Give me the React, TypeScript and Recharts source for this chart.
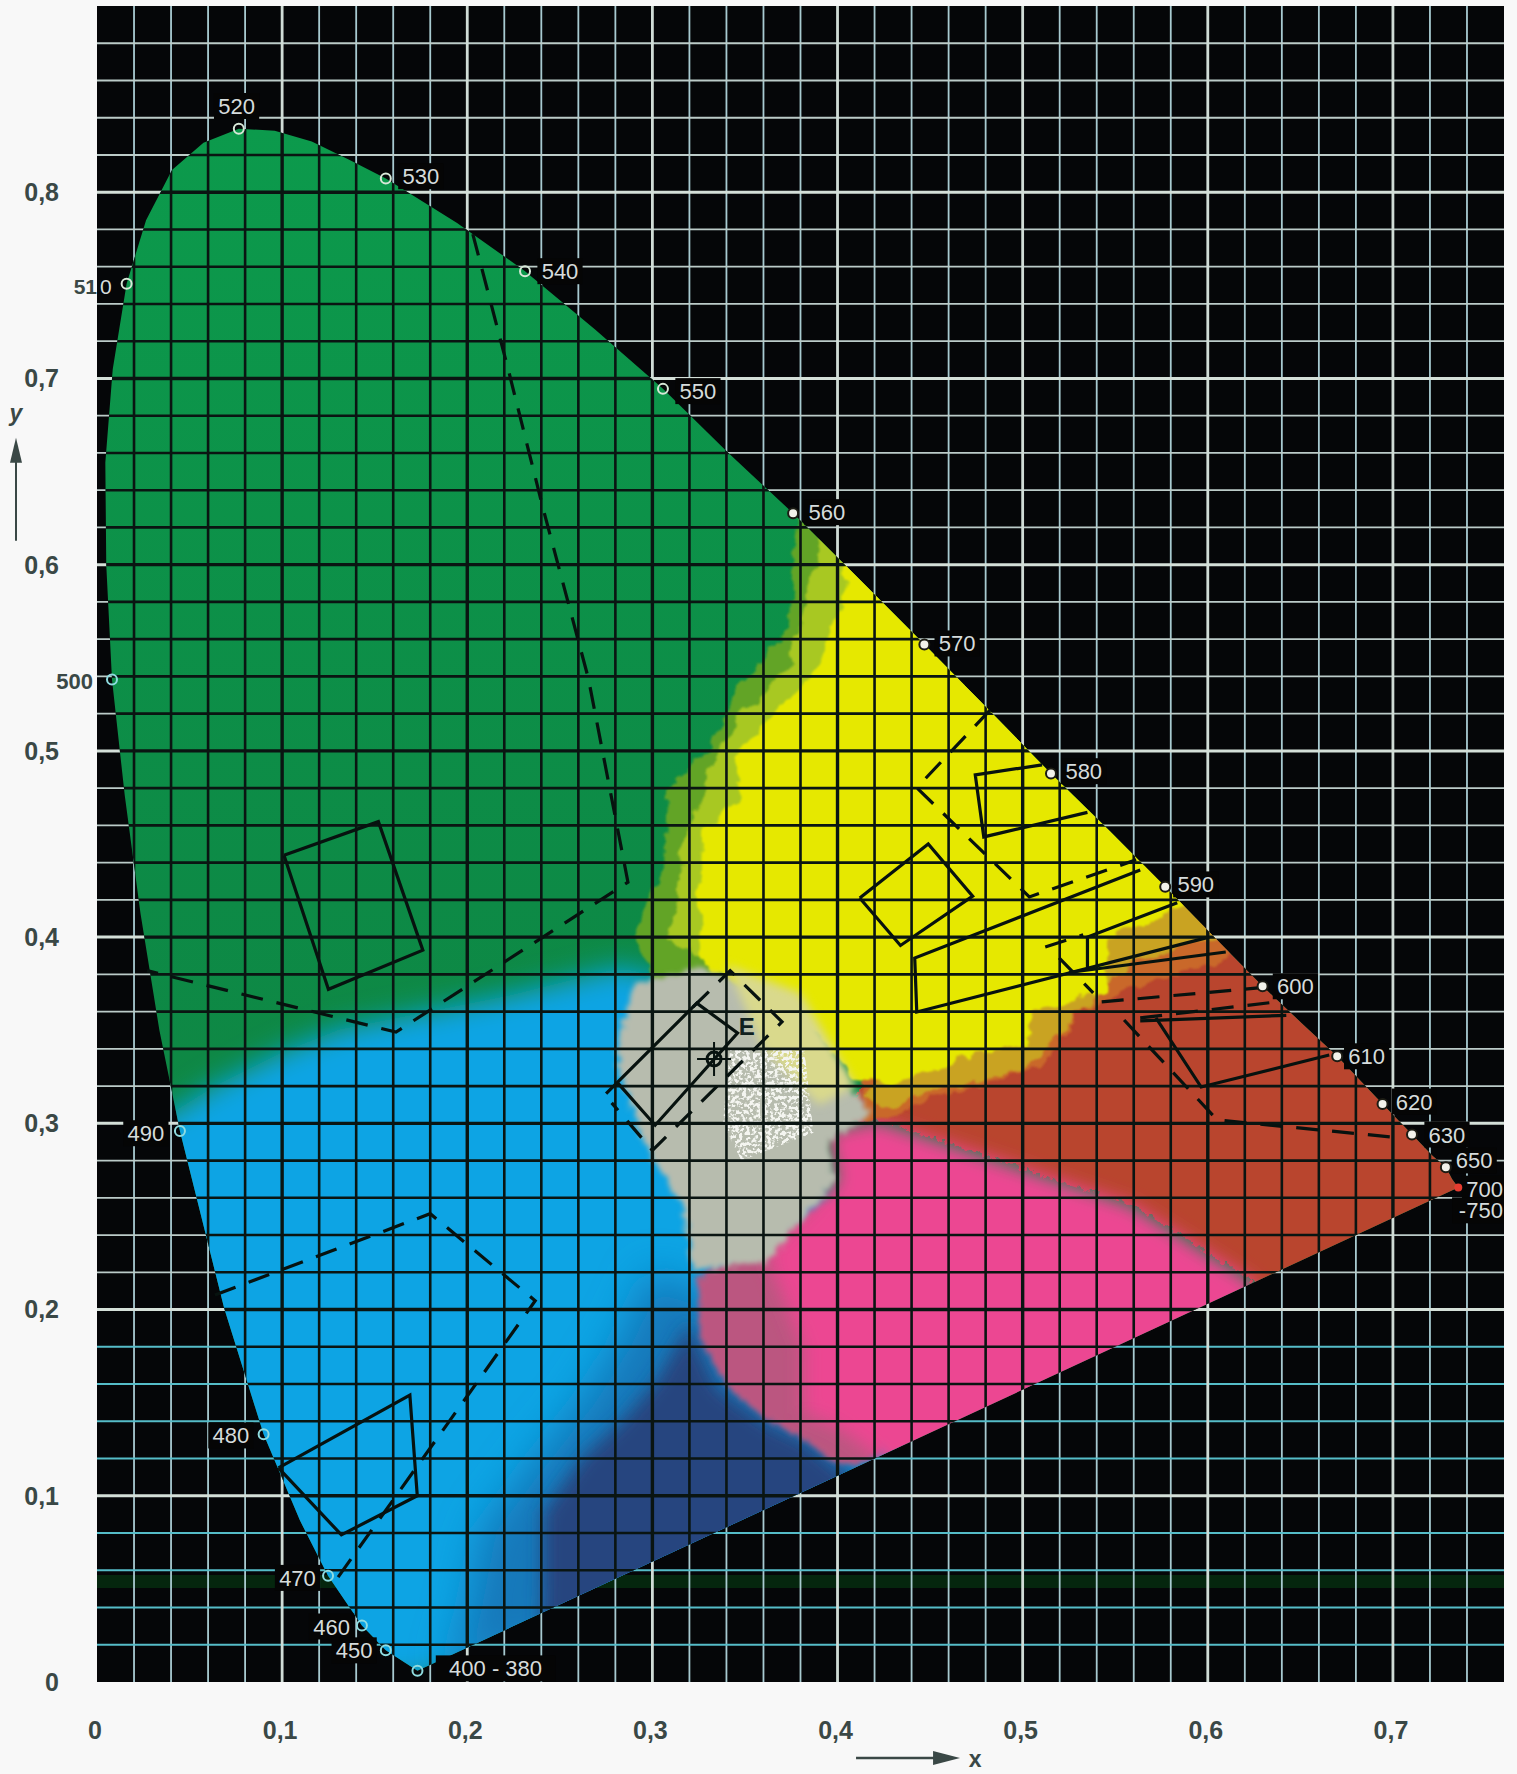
import React from 'react';
import { ScatterChart, Scatter, XAxis, YAxis } from 'recharts';

type P = { x: number; y: number };
const toPts = (a: number[][]): P[] => a.map(([x, y]) => ({ x, y }));

const xTicks = [0, 0.1, 0.2, 0.3, 0.4, 0.5, 0.6, 0.7];
const yTicks = [0, 0.1, 0.2, 0.3, 0.4, 0.5, 0.6, 0.7, 0.8];
const xMajor = [0.1, 0.2, 0.3, 0.4, 0.5, 0.6, 0.7];
const yMajor = [0.1, 0.2, 0.3, 0.4, 0.5, 0.6, 0.7, 0.8];
const xMinor = [0.02, 0.04, 0.06, 0.08, 0.12, 0.14, 0.16, 0.18, 0.22, 0.24, 0.26, 0.28, 0.32, 0.34, 0.36, 0.38, 0.42, 0.44, 0.46, 0.48, 0.52, 0.54, 0.56, 0.58, 0.62, 0.64, 0.66, 0.68, 0.72, 0.74];
const yMinor = [0.22, 0.24, 0.26, 0.28, 0.32, 0.34, 0.36, 0.38, 0.42, 0.44, 0.46, 0.48, 0.52, 0.54, 0.56, 0.58, 0.62, 0.64, 0.66, 0.68, 0.72, 0.74, 0.76, 0.78, 0.82, 0.84, 0.86, 0.88];
const yMinorLow = [0.02, 0.04, 0.06, 0.08, 0.12, 0.14, 0.16, 0.18];

const X_MAX = 0.76;
const Y_MAX = 0.9;

const locus = toPts([
  [0.1731, 0.0061], [0.156, 0.017], [0.1431, 0.0304], [0.1248, 0.0571], [0.1096, 0.0868], [0.09, 0.133],
  [0.0687, 0.2007], [0.0448, 0.2959], [0.0337, 0.35], [0.0235, 0.4127], [0.015, 0.476], [0.0081, 0.5383],
  [0.005, 0.6], [0.0045, 0.6548], [0.0085, 0.705], [0.016, 0.7509], [0.0265, 0.785], [0.0405, 0.812],
  [0.0575, 0.8265], [0.0766, 0.8341], [0.096, 0.833], [0.116, 0.8272], [0.1362, 0.8175], [0.156, 0.8074],
  [0.1945, 0.7835], [0.2312, 0.7576], [0.2692, 0.7262], [0.3057, 0.6944], [0.3405, 0.6605], [0.376, 0.6276],
  [0.4115, 0.5925], [0.4469, 0.5571], [0.4815, 0.5222], [0.5153, 0.4878], [0.5472, 0.4568], [0.577, 0.4271],
  [0.605, 0.3985], [0.6296, 0.3736], [0.651, 0.3535], [0.6699, 0.336], [0.6944, 0.3104], [0.7103, 0.294],
  [0.7215, 0.2825], [0.7286, 0.2764], [0.732, 0.27], [0.7353, 0.2655],
]);

const blueRegion = toPts([[0.0, 0.29], [0.0393, 0.305], [0.0637, 0.3202], [0.1004, 0.3384], [0.131, 0.3505], [0.2227, 0.3688], [0.2837, 0.384], [0.33, 0.37], [0.4, 0.25], [0.45, 0.06], [0.17, 0.0], [0.0, 0.0]]);
const midBlueRegion = toPts([[0.3004, 0.2213], [0.2809, 0.1799], [0.2626, 0.1514], [0.2355, 0.1176], [0.2085, 0.0816], [0.1999, 0.0371], [0.19, 0.005], [0.45, 0.08], [0.34, 0.2]]);
const navyRegion = toPts([[0.3204, 0.1928], [0.3025, 0.1622], [0.2842, 0.1407], [0.2626, 0.1208], [0.241, 0.0908], [0.241, 0.0548], [0.24, 0.02], [0.45, 0.08], [0.3998, 0.1155], [0.3814, 0.13], [0.362, 0.1391], [0.335, 0.1584], [0.3241, 0.1821]]);
const redRegion = toPts([[0.4, 0.3], [0.4212, 0.3019], [0.4487, 0.2928], [0.5587, 0.2564], [0.6264, 0.2139], [0.74, 0.25], [0.76, 0.3], [0.62, 0.42], [0.5, 0.36], [0.42, 0.33]]);
const mauveRegion = toPts([[0.3241, 0.2175], [0.3258, 0.1837], [0.3404, 0.1584], [0.362, 0.1407], [0.3814, 0.13], [0.4014, 0.1155], [0.42, 0.12], [0.46, 0.2], [0.4, 0.26]]);
const pinkRegion = toPts([[0.4212, 0.3019], [0.4487, 0.2928], [0.5587, 0.2564], [0.6264, 0.2139], [0.62, 0.17], [0.44, 0.1], [0.4214, 0.1208], [0.3998, 0.137], [0.3814, 0.1445], [0.3814, 0.1799], [0.3636, 0.225], [0.362, 0.2304], [0.3782, 0.2465], [0.3998, 0.2696], [0.3938, 0.2959]]);
const orangeRegion = toPts([[0.41, 0.3], [0.423, 0.3034], [0.4446, 0.3126], [0.5062, 0.3303], [0.5284, 0.3609], [0.5548, 0.3716], [0.6094, 0.3894], [0.62, 0.42], [0.5, 0.42], [0.41, 0.33]]);
const goldRegion = toPts([[0.41, 0.315], [0.423, 0.3088], [0.4446, 0.3163], [0.4976, 0.3287], [0.5219, 0.3539], [0.5527, 0.3861], [0.6029, 0.4], [0.58, 0.45], [0.5, 0.4]]);
const oliveRegion = toPts([[0.3744, 0.6171], [0.369, 0.5634], [0.3436, 0.5344], [0.3312, 0.5097], [0.322, 0.4952], [0.3042, 0.4791], [0.3025, 0.4377], [0.2917, 0.4162], [0.2863, 0.3985], [0.3, 0.375], [0.4, 0.36], [0.5, 0.5], [0.45, 0.58], [0.38, 0.65]]);
const limeRegion = toPts([[0.3836, 0.5988], [0.3701, 0.5451], [0.3436, 0.5183], [0.3274, 0.4914], [0.3231, 0.4774], [0.3133, 0.456], [0.3096, 0.4237], [0.3042, 0.3985], [0.4, 0.36], [0.5, 0.5], [0.45, 0.58], [0.39, 0.64]]);
const yellowRegion = toPts([[0.4014, 0.5988], [0.3998, 0.5811], [0.3836, 0.5419], [0.362, 0.5204], [0.342, 0.4968], [0.342, 0.4737], [0.3231, 0.456], [0.3214, 0.4023], [0.3241, 0.384], [0.3754, 0.3566], [0.4029, 0.3262], [0.423, 0.3195], [0.4538, 0.3324], [0.4976, 0.341], [0.5019, 0.3571], [0.5419, 0.3716], [0.5419, 0.3985], [0.5835, 0.4162], [0.6, 0.45], [0.5, 0.6], [0.42, 0.65]]);
const greyRegion = toPts([[0.2898, 0.3748], [0.3265, 0.384], [0.3754, 0.3627], [0.4181, 0.305], [0.3938, 0.2898], [0.3998, 0.2696], [0.3782, 0.2465], [0.362, 0.225], [0.322, 0.2213], [0.3166, 0.2551], [0.295, 0.291], [0.284, 0.323], [0.2807, 0.3384]]);
const paleRegion = toPts([[0.34, 0.385], [0.38, 0.37], [0.41, 0.32], [0.39, 0.31], [0.36, 0.34]]);
const whiteRegion = toPts([[0.342, 0.34], [0.382, 0.34], [0.387, 0.295], [0.348, 0.28], [0.338, 0.3]]);
const greenBand = toPts([[0, 0.0505], [X_MAX, 0.0505], [X_MAX, 0.0575], [0, 0.0575]]);
const plotArea = toPts([[0, 0], [X_MAX, 0], [X_MAX, Y_MAX], [0, Y_MAX]]);

const solidShapes: P[][] = [
  [[0.101, 0.444], [0.152, 0.462], [0.176, 0.393], [0.125, 0.372], [0.101, 0.444]],
  [[0.098, 0.115], [0.169, 0.154], [0.173, 0.1], [0.132, 0.079], [0.098, 0.115]],
  [[0.275, 0.316], [0.324, 0.3645], [0.346, 0.3485], [0.3015, 0.299], [0.281, 0.322]],
  [[0.412, 0.421], [0.449, 0.45], [0.473, 0.422], [0.434, 0.3955], [0.412, 0.421]],
  [[0.5105, 0.4925], [0.4744, 0.4871], [0.479, 0.4538], [0.535, 0.467]],
  [[0.5635, 0.436], [0.4417, 0.3888], [0.4428, 0.3598], [0.6007, 0.4]],
  [[0.5835, 0.4184], [0.535, 0.4], [0.535, 0.384]],
  [[0.525, 0.381], [0.6097, 0.392]],
  [[0.5635, 0.355], [0.6424, 0.358]],
  [[0.572, 0.3566], [0.5964, 0.3195], [0.6656, 0.3367]],
].map(toPts);

const dashedShapes: P[][] = [
  [[0.203, 0.7775], [0.2226, 0.703], [0.241, 0.63], [0.2654, 0.539], [0.2868, 0.4295], [0.1615, 0.349], [0.027, 0.382]],
  [[0.0637, 0.2078], [0.18, 0.2515], [0.2367, 0.2047], [0.13, 0.056]],
  [[0.322, 0.3625], [0.342, 0.382], [0.37, 0.3545], [0.3, 0.2855], [0.278, 0.311]],
  [[0.4825, 0.522], [0.4428, 0.4802], [0.5036, 0.4216], [0.5613, 0.4415]],
  [[0.5122, 0.3947], [0.5327, 0.4012]],
  [[0.5197, 0.3889], [0.5381, 0.37]],
  [[0.5427, 0.3652], [0.6273, 0.3727]],
  [[0.5635, 0.3566], [0.637, 0.3652]],
  [[0.5548, 0.3555], [0.6051, 0.3018], [0.704, 0.2922]],
].map(toPts);

const blueSidePoints = toPts([[0.1731, 0.0061], [0.156, 0.017], [0.1431, 0.0304], [0.1248, 0.0571], [0.09, 0.133], [0.0448, 0.2959], [0.0081, 0.5383]]);
const greenSidePoints = toPts([[0.016, 0.7509], [0.0766, 0.8341], [0.156, 0.8074], [0.2312, 0.7576], [0.3057, 0.6944]]);
const warmSidePoints = toPts([[0.376, 0.6276], [0.4469, 0.5571], [0.5153, 0.4878], [0.577, 0.4271], [0.6296, 0.3736], [0.6699, 0.336], [0.6944, 0.3104], [0.7103, 0.294], [0.7286, 0.2764]]);
const redEndPoint = toPts([[0.7353, 0.2655]]);
const whitePoint = toPts([[0.3333, 0.3346]]);
const eLabelPoint = toPts([[0.351, 0.352]]);

const waveLabels = [
  { t: '520', x: 0.0754, y: 0.8463 }, { t: '530', x: 0.1749, y: 0.8086 }, { t: '540', x: 0.2501, y: 0.7576 },
  { t: '550', x: 0.3246, y: 0.6932 }, { t: '560', x: 0.3943, y: 0.6282 }, { t: '570', x: 0.4646, y: 0.5577 },
  { t: '580', x: 0.533, y: 0.4891 }, { t: '590', x: 0.5935, y: 0.4283 }, { t: '600', x: 0.6473, y: 0.3736 },
  { t: '610', x: 0.6858, y: 0.336 }, { t: '620', x: 0.7115, y: 0.3117 }, { t: '630', x: 0.7292, y: 0.294 },
  { t: '650', x: 0.7439, y: 0.2801 }, { t: '700', x: 0.7495, y: 0.2649 }, { t: '-750', x: 0.7475, y: 0.2533 },
  { t: '490', x: 0.0264, y: 0.2947 }, { t: '480', x: 0.0723, y: 0.1324 }, { t: '470', x: 0.1083, y: 0.0559 },
  { t: '460', x: 0.1267, y: 0.0298 }, { t: '450', x: 0.1389, y: 0.017 }, { t: '400 - 380', x: 0.2153, y: 0.0073 },
];
const label510 = toPts([[0, 0.7492]]);
const label500 = toPts([[0, 0.5377]]);
const yArrowAnchor = toPts([[0, 0.6128]]);
const xArrowAnchor = toPts([[0.41, 0]]);

const FONT = '"Liberation Sans", Arial, sans-serif';
const INK = '#3a4846';
const LINE = '#07120f';
const none = () => <g />;
const pathOf = (pts: P[]) => pts.map((p, i) => `${i ? 'L' : 'M'}${p.x},${p.y}`).join('');
const pairsOf = (pts: P[]) => pts.map((p, i) => `${i % 2 ? 'L' : 'M'}${p.x},${p.y}`).join('');

const vLines = (v: number[]) => v.flatMap((x) => [{ x, y: 0 }, { x, y: Y_MAX }]);
const hLines = (v: number[]) => v.flatMap((y) => [{ x: 0, y }, { x: X_MAX, y }]);

const gridSeries = (key: string, data: P[], stroke: string, w: number, clipped = false) => (
  <Scatter key={key} data={data} isAnimationActive={false} shape={none} line={(p: any) => (
    <path d={pairsOf(p.points)} fill="none" stroke={stroke} strokeWidth={w} clipPath={clipped ? 'url(#gamut)' : undefined} />
  )} />
);
const region = (key: string, data: P[], fill: string, filter: string | undefined, opacity = 1) => (
  <Scatter key={key} data={data} isAnimationActive={false} shape={none} line={(p: any) => (
    <g clipPath="url(#gamut)">
      <path d={pathOf(p.points) + 'Z'} fill={fill} stroke="none" opacity={opacity} filter={filter ? `url(#${filter})` : undefined} />
    </g>
  )} />
);
const stroked = (key: string, data: P[], dash?: string) => (
  <Scatter key={key} data={data} isAnimationActive={false} shape={none} line={(p: any) => (
    <path d={pathOf(p.points)} fill="none" stroke={LINE} strokeWidth={3.2} strokeDasharray={dash} />
  )} />
);
const flat = (key: string, data: P[], fill: string) => (
  <Scatter key={key} data={data} isAnimationActive={false} shape={none} line={(p: any) => (
    <path d={pathOf(p.points) + 'Z'} fill={fill} stroke="none" />
  )} />
);

const blurDef = (id: string, s: number) => (
  <filter id={id} x="-40%" y="-40%" width="180%" height="180%"><feGaussianBlur stdDeviation={s} /></filter>
);
const roughDef = (id: string, freq: number, scale: number, blur: number, dx = 0) => (
  <filter id={id} x="-20%" y="-20%" width="140%" height="140%">
    <feTurbulence type="fractalNoise" baseFrequency={freq} numOctaves={3} seed={3} result="n" />
    <feDisplacementMap in="SourceGraphic" in2="n" scale={scale} xChannelSelector="R" yChannelSelector="G" />
    <feOffset dx={dx} dy={0} />
    <feGaussianBlur stdDeviation={blur} />
  </filter>
);

const WaveLabel = (p: any) => {
  const t = p.payload.t as string;
  const w = t.length * 12.4 + 8;
  const left = p.cx - w / 2;
  const right = Math.min(p.cx + w / 2, 1504);
  return (
    <g>
      <rect x={left} y={p.cy - 13} width={right - left} height={26} fill="#050505" />
      <text x={p.cx} y={p.cy + 8} textAnchor="middle" fontFamily={FONT} fontSize={22} fill="#d6dcdc">{t}</text>
    </g>
  );
};

const ring = (stroke: string, fill: string) => (p: any) => (
  <circle cx={p.cx} cy={p.cy} r={5} fill={fill} stroke={stroke} strokeWidth={2} />
);

const fmt = (v: number) => (v === 0 ? '0' : String(v).replace('.', ','));
const tickStyle = { fontFamily: FONT, fontWeight: 700, fontSize: 25, fill: INK };

export default function App() {
  return (
    <div style={{ position: 'absolute', left: 0, top: 0, width: 1517, height: 1774, background: '#f8f8f8' }}>
      <ScatterChart width={1517} height={1774} margin={{ top: 6, right: 13, bottom: 0, left: 0 }}>
        <XAxis type="number" dataKey="x" domain={[0, X_MAX]} ticks={xTicks} interval={0} height={92} tickFormatter={fmt}
          tick={{ ...tickStyle, dx: -2 }} tickLine={false} axisLine={false} tickMargin={33} />
        <YAxis type="number" dataKey="y" domain={[0, Y_MAX]} ticks={yTicks} interval={0} width={97} tickFormatter={fmt}
          tick={tickStyle} tickLine={false} axisLine={false} tickMargin={32} />

        {flat('plotblack', plotArea, '#050608')}
        {flat('band', greenBand, '#05260e')}

        {gridSeries('wMinorX', vLines(xMinor), '#a8cad0', 1.8)}
        {gridSeries('wMinorY', hLines(yMinor), '#bccbc8', 1.8)}
        {gridSeries('wLowY', hLines(yMinorLow), '#55bcc8', 2)}
        {gridSeries('wMajorX', vLines(xMajor), '#d0dcd6', 2.8)}
        {gridSeries('wMajorY', hLines(yMajor), '#d4dfd8', 3)}

        <Scatter key="gamut" data={locus} isAnimationActive={false} shape={none} line={(p: any) => (
          <g>
            <defs>
              <clipPath id="gamut"><path d={pathOf(p.points) + 'Z'} /></clipPath>
              <linearGradient id="greenFill" x1="0" y1="0" x2="0" y2="1">
                <stop offset="0" stopColor="#0c9a4c" />
                <stop offset="0.5" stopColor="#0d8a46" />
                <stop offset="1" stopColor="#12803f" />
              </linearGradient>
              {blurDef('b2', 2)}
              {blurDef('b5', 5)}
              {blurDef('b9', 9)}
              {blurDef('b14', 14)}
              {blurDef('b20', 20)}
              {roughDef('rough', 0.05, 18, 0.8, 7)}
              {roughDef('fine', 0.16, 12, 0.6)}
              {roughDef('fineSoft', 0.16, 14, 2.4)}
              <filter id="speckle" x="-10%" y="-10%" width="120%" height="120%">
                <feTurbulence type="fractalNoise" baseFrequency={0.28} numOctaves={2} seed={5} result="n" />
                <feColorMatrix in="n" type="matrix" values="0 0 0 0 0 0 0 0 0 0 0 0 0 0 0 9 0 0 0 -4.2" result="m" />
                <feComposite in="SourceGraphic" in2="m" operator="in" />
                <feGaussianBlur stdDeviation={0.5} />
              </filter>
            </defs>
            <path d={pathOf(p.points) + 'Z'} fill="url(#greenFill)" stroke="none" />
          </g>
        )} />

        {region('blue', blueRegion, '#08a4e4', 'b14')}
        {region('midblue', midBlueRegion, '#1478ba', 'b20')}
        {region('navy', navyRegion, '#28457f', 'b9')}
        {region('red', redRegion, '#b9442f', 'fine')}
        {region('mauve', mauveRegion, '#bb5680', 'fineSoft')}
        {region('pink', pinkRegion, '#ec4792', 'b9')}
        {region('olive', oliveRegion, '#62a428', 'rough')}
        {region('lime', limeRegion, '#a8c820', 'rough')}
        {region('orange', orangeRegion, '#c9682a', 'rough')}
        {region('gold', goldRegion, '#c9a322', 'rough')}
        {region('yellow', yellowRegion, '#e6e806', 'rough')}
        {region('grey', greyRegion, '#b7bcae', 'fineSoft')}
        {region('pale', paleRegion, '#d9d98c', 'b5')}
        {region('white', whiteRegion, '#f4f5f0', 'speckle')}

        {gridSeries('kMinorX', vLines(xMinor), '#0a1512', 2.6, true)}
        {gridSeries('kMinorY', hLines([...yMinorLow, ...yMinor]), '#0a1512', 2.6, true)}
        {gridSeries('kMajorX', vLines(xMajor), '#0a1512', 3.4, true)}
        {gridSeries('kMajorY', hLines(yMajor), '#0a1512', 3.4, true)}

        {solidShapes.map((s, i) => stroked(`solid${i}`, s))}
        {dashedShapes.map((s, i) => stroked(`dash${i}`, s, '22 14'))}

        <Scatter key="labels" data={waveLabels} isAnimationActive={false} shape={WaveLabel} />
        <Scatter key="wlBlue" data={blueSidePoints} isAnimationActive={false} shape={ring('#8fdce0', 'none')} />
        <Scatter key="wlGreen" data={greenSidePoints} isAnimationActive={false} shape={ring('#d8e8d8', 'none')} />
        <Scatter key="wlWarm" data={warmSidePoints} isAnimationActive={false} shape={ring('#1c1c14', '#f2f2ea')} />
        <Scatter key="redEnd" data={redEndPoint} isAnimationActive={false} shape={(p: any) => (
          <circle cx={p.cx} cy={p.cy} r={4} fill="#e63c30" stroke="none" />
        )} />
        <Scatter key="E" data={whitePoint} isAnimationActive={false} shape={(p: any) => (
          <g fill="none" stroke={LINE}>
            <circle cx={p.cx} cy={p.cy} r={7} strokeWidth={3} />
            <path d={`M${p.cx - 17},${p.cy}H${p.cx + 17}M${p.cx},${p.cy - 17}V${p.cy + 17}`} strokeWidth={2} />
          </g>
        )} />
        <Scatter key="Etext" data={eLabelPoint} isAnimationActive={false} shape={(p: any) => (
          <text x={p.cx} y={p.cy + 9} textAnchor="middle" fontFamily={FONT} fontWeight={700} fontSize={24} fill="#10201e">E</text>
        )} />
        <Scatter key="l510" data={label510} isAnimationActive={false} shape={(p: any) => (
          <g fontFamily={FONT} fontSize={21}>
            <text x={p.cx} y={p.cy + 7.5} textAnchor="end" fontWeight={700} fill={INK}>51</text>
            <text x={p.cx + 3} y={p.cy + 7.5} fill="#d6dcdc">0</text>
          </g>
        )} />
        <Scatter key="l500" data={label500} isAnimationActive={false} shape={(p: any) => (
          <text x={p.cx - 4} y={p.cy + 8} textAnchor="end" fontFamily={FONT} fontWeight={700} fontSize={22} fill={INK}>500</text>
        )} />
        <Scatter key="yArrow" data={yArrowAnchor} isAnimationActive={false} shape={(p: any) => {
          const x = p.cx - 81; const y = p.cy;
          return (
            <g>
              <path d={`M${x},${y}V${y - 85}`} stroke={INK} strokeWidth={2} fill="none" />
              <path d={`M${x},${y - 103}L${x + 6},${y - 78}H${x - 6}Z`} fill={INK} />
              <text x={x} y={y - 120} textAnchor="middle" fontFamily={FONT} fontStyle="italic" fontWeight={700} fontSize={23} fill={INK}>y</text>
            </g>
          );
        }} />
        <Scatter key="xArrow" data={xArrowAnchor} isAnimationActive={false} shape={(p: any) => {
          const x = p.cx; const y = p.cy + 76;
          return (
            <g>
              <path d={`M${x},${y}H${x + 85}`} stroke={INK} strokeWidth={2.5} fill="none" />
              <path d={`M${x + 104},${y}L${x + 77},${y + 7}V${y - 7}Z`} fill={INK} />
              <text x={x + 119} y={y + 9} textAnchor="middle" fontFamily={FONT} fontWeight={700} fontSize={23} fill={INK}>x</text>
            </g>
          );
        }} />
      </ScatterChart>
    </div>
  );
}
